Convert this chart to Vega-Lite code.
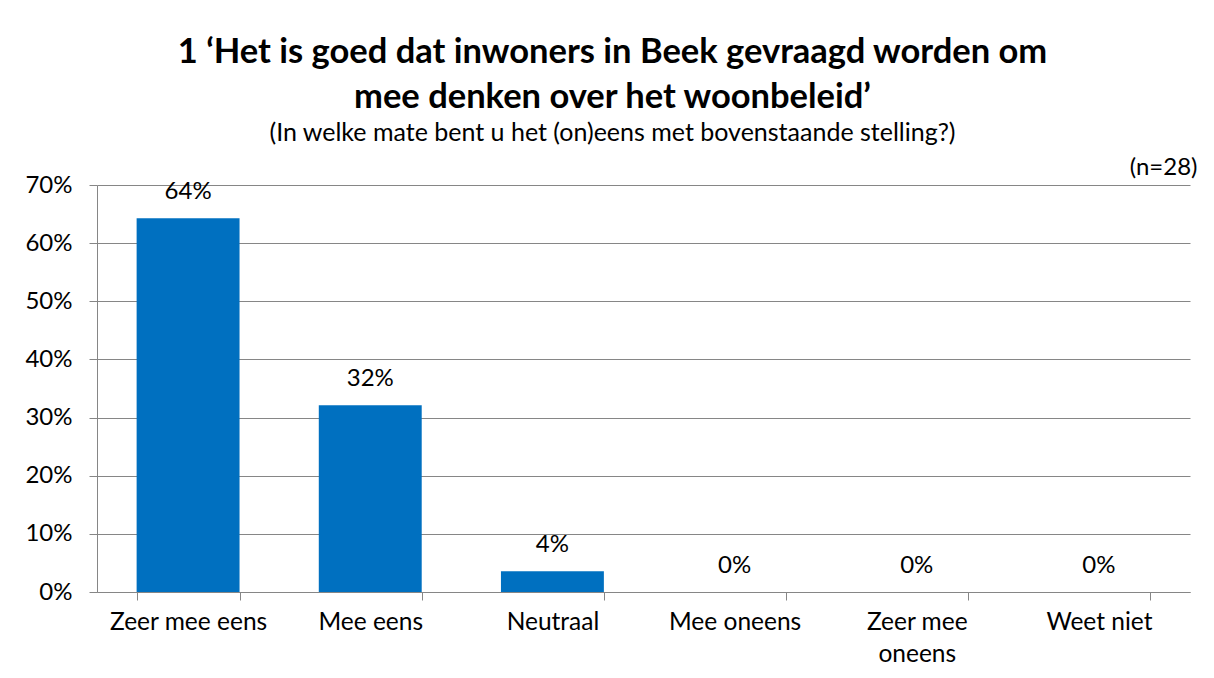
{
  "$schema": "https://vega.github.io/schema/vega-lite/v6.json",
  "width": 1093,
  "height": 407,
  "autosize": {"type": "none"},
  "padding": {"left": 97, "top": 185, "right": 24, "bottom": 86},
  "background": "white",
  "title": {
    "text": ["1 ‘Het is goed dat inwoners in Beek gevraagd worden om", "mee denken over het woonbeleid’"],
    "subtitle": "(In welke mate bent u het (on)eens met bovenstaande stelling?)",
    "font": "Lato",
    "fontSize": 34.5,
    "fontWeight": "bold",
    "lineHeight": 45,
    "color": "black",
    "subtitleFont": "Lato",
    "subtitleFontSize": 25,
    "subtitleColor": "black",
    "subtitlePadding": 6,
    "anchor": "middle",
    "dx": -31,
    "offset": 8
  },
  "data": {
    "values": [
      {"categorie": "Zeer mee eens", "aandeel": 0.6429},
      {"categorie": "Mee eens", "aandeel": 0.3214},
      {"categorie": "Neutraal", "aandeel": 0.0357},
      {"categorie": "Mee oneens", "aandeel": 0},
      {"categorie": "Zeer mee oneens", "aandeel": 0},
      {"categorie": "Weet niet", "aandeel": 0}
    ]
  },
  "layer": [
    {
      "mark": {"type": "bar", "color": "#0070C0"},
      "encoding": {
        "x": {
          "field": "categorie",
          "type": "nominal",
          "sort": null,
          "scale": {"paddingInner": 0.435, "paddingOuter": 0.2175},
          "axis": {
            "orient": "bottom",
            "title": null,
            "labelAngle": 0,
            "labelFont": "Lato",
            "labelFontSize": 24.5,
            "labelColor": "black",
            "labelPadding": 10,
            "labelLineHeight": 32,
            "labelExpr": "datum.label == 'Zeer mee oneens' ? ['Zeer mee', 'oneens'] : datum.label",
            "tickBand": "extent",
            "tickSize": 8,
            "tickColor": "#868686",
            "domainColor": "#868686",
            "grid": false
          }
        },
        "y": {
          "field": "aandeel",
          "type": "quantitative",
          "scale": {"domain": [0, 0.7]},
          "axis": {
            "title": null,
            "format": ".0%",
            "values": [0, 0.1, 0.2, 0.3, 0.4, 0.5, 0.6, 0.7],
            "labelFont": "Lato",
            "labelFontSize": 24,
            "labelColor": "black",
            "labelPadding": 17,
            "tickSize": 8,
            "tickColor": "#868686",
            "domainColor": "#868686",
            "gridColor": "#868686",
            "grid": true
          }
        }
      }
    },
    {
      "mark": {"type": "text", "baseline": "alphabetic", "dy": -19, "font": "Lato", "fontSize": 24, "color": "black"},
      "encoding": {
        "x": {
          "field": "categorie",
          "type": "nominal",
          "sort": null,
          "axis": {
            "orient": "top",
            "labels": false,
            "ticks": false,
            "domain": false,
            "grid": false,
            "title": "(n=28)",
            "titleX": 1100,
            "titleAlign": "right",
            "titleFont": "Lato",
            "titleFontSize": 24,
            "titleFontWeight": "normal",
            "titleColor": "black",
            "titlePadding": 6
          }
        },
        "y": {"field": "aandeel", "type": "quantitative"},
        "text": {"field": "aandeel", "type": "quantitative", "format": ".0%"}
      }
    }
  ],
  "resolve": {"axis": {"x": "independent"}},
  "config": {"view": {"stroke": null}}
}
